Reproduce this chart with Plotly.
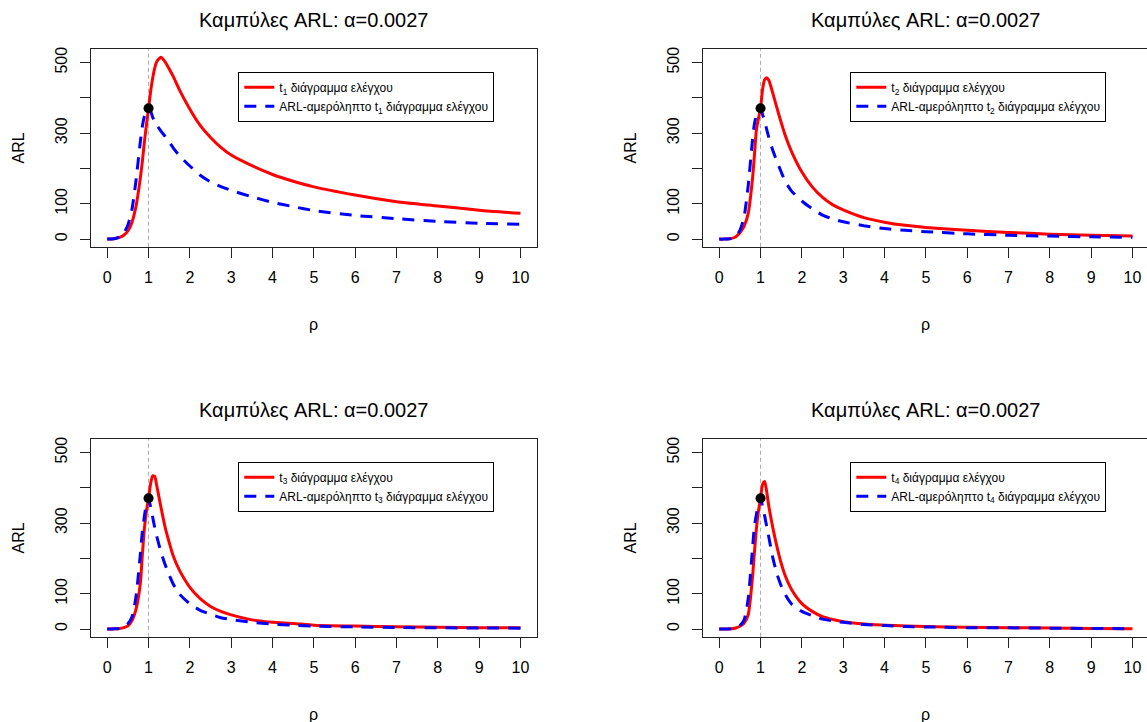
import plotly.graph_objects as go

# ARL curves for the t1..t4 control charts and their ARL-unbiased versions
rho = [0, 0.1, 0.2, 0.3, 0.4, 0.5, 0.6, 0.7, 0.8, 0.85, 0.9, 0.95, 1.0, 1.05, 1.1,
       1.15, 1.2, 1.3, 1.4, 1.5, 1.6, 1.75, 2.0, 2.25, 2.5, 2.75, 3.0, 3.5, 4.0,
       4.5, 5.0, 6.0, 7.0, 8.0, 9.0, 10.0]

arl_t1 = [0, 0.5, 2, 5, 11, 23, 48, 95, 172, 220, 276, 325, 370.4, 418, 456,
          485, 503, 515, 502, 482, 460, 422, 368, 322, 288, 260, 238, 208, 183,
          164, 148, 125, 106, 94, 82, 73]
unb_t1 = [0, 0.5, 2, 6, 17, 40, 85, 170, 275, 320, 348, 364, 370.4, 362, 345,
          333, 322, 306, 291, 275, 258, 236, 207, 181, 162, 149, 138, 120, 104,
          92, 81, 67, 58, 50, 45, 42]

arl_t2 = [0, 0, 0.5, 2, 7, 18, 36, 72, 165, 235, 310, 342, 370.4, 425, 452,
          457, 450, 412, 370, 330, 293, 248, 190, 148, 118, 97, 83, 61, 48,
          39, 33, 25, 19, 14, 11, 8.5]
unb_t2 = [0, 0, 0.5, 2, 8, 25, 62, 150, 275, 325, 352, 366, 370.4, 352, 335,
          310, 288, 250, 219, 190, 163, 136, 108, 86, 68, 57, 49, 38, 30,
          25, 21, 15, 11, 8.5, 6.5, 5]

arl_t3 = [0, 0, 0.5, 1.5, 4, 9, 24, 58, 128, 210, 285, 335, 370.4, 412, 434,
          432, 405, 345, 289, 245, 206, 166, 118, 86, 64, 50, 40, 26, 19,
          16, 11, 8.5, 6.5, 5, 4, 3.5]
unb_t3 = [0, 0, 0.5, 2, 6, 15, 35, 95, 210, 275, 320, 355, 370.4, 345, 317,
          287, 262, 218, 183, 153, 127, 99, 71, 53, 42, 32, 27, 19, 14,
          11, 8.5, 6, 4.5, 3.5, 3, 2.5]

arl_t4 = [0, 0, 0.3, 1, 3, 8, 16, 40, 140, 215, 285, 335, 370.4, 410, 418,
          388, 348, 285, 232, 186, 150, 112, 72, 50, 35, 27, 21, 14, 11,
          8.5, 7, 5, 4, 3, 1.5, 1]
unb_t4 = [0, 0, 0.3, 1, 3, 10, 25, 85, 220, 290, 325, 355, 370.4, 345, 320,
          290, 260, 200, 155, 122, 97, 71, 50, 38, 28, 23, 19, 13, 10,
          7, 6, 4, 3.5, 2.5, 1.5, 1]

arl0 = 370.4            # in-control ARL = 1/alpha
alpha_text = "0.0027"
x_ticks = list(range(0, 11))
y_ticks_labelled = [0, 100, 300, 500]
y_ticks_plain = [200, 400]

FONT = "Liberation Sans, Arial, sans-serif"
W, H = 1147, 722

panels = [
    dict(k=1, red=arl_t1, blue=unb_t1, left=90.7, right=537.0, top=47.0, bottom=245.5),
    dict(k=2, red=arl_t2, blue=unb_t2, left=702.7, right=1147.0, top=47.0, bottom=245.5),
    dict(k=3, red=arl_t3, blue=unb_t3, left=90.7, right=537.0, top=438.0, bottom=636.5),
    dict(k=4, red=arl_t4, blue=unb_t4, left=702.7, right=1147.0, top=438.0, bottom=636.5),
]

fig = go.Figure()
px_per_unit = (537.0 - 90.7) / 10.8

for p in panels:
    k = p["k"]
    xa = "x" if k == 1 else f"x{k}"
    ya = "y" if k == 1 else f"y{k}"
    lg = "legend" if k == 1 else f"legend{k}"
    right_col = k in (2, 4)

    fig.add_trace(go.Scatter(
        x=rho, y=p["red"], mode="lines", xaxis=xa, yaxis=ya, legend=lg,
        name=f"t<sub>{k}</sub> διάγραμμα ελέγχου",
        line=dict(color="#ff0000", width=3, shape="spline", smoothing=0.6),
    ))
    fig.add_trace(go.Scatter(
        x=rho, y=p["blue"], mode="lines", xaxis=xa, yaxis=ya, legend=lg,
        name=f"ARL-αμερόληπτο t<sub>{k}</sub> διάγραμμα ελέγχου",
        line=dict(color="#0000ff", width=3, dash="12px,9px", shape="spline", smoothing=0.6),
    ))
    fig.add_trace(go.Scatter(
        x=[1], y=[arl0], mode="markers", xaxis=xa, yaxis=ya, showlegend=False,
        marker=dict(color="black", size=10),
    ))

    x0 = -0.4
    x1 = x0 + (p["right"] - p["left"]) / px_per_unit
    xdom = [p["left"] / W, p["right"] / W]
    ydom = [1 - p["bottom"] / H, 1 - p["top"] / H]

    axis_common = dict(
        showgrid=False, zeroline=False, showline=True, linecolor="#222",
        linewidth=1.2, ticks="outside", ticklen=10, tickwidth=1.2, tickcolor="#222",
        tickfont=dict(family=FONT, size=16, color="black"),
    )
    fig.layout[f"xaxis{'' if k == 1 else k}"] = dict(
        axis_common, domain=xdom, range=[x0, x1], tickvals=x_ticks,
        mirror=True, anchor=ya, ticklabelstandoff=6,
    )
    fig.layout[f"yaxis{'' if k == 1 else k}"] = dict(
        axis_common, domain=ydom, range=[-21.8, 538.8], tickvals=y_ticks_labelled,
        tickangle=-90, mirror=not right_col, anchor=xa, ticklabelstandoff=6,
        minor=dict(tickvals=y_ticks_plain, ticks="outside", ticklen=10,
                   tickwidth=1.2, tickcolor="#222", showgrid=False),
    )

    # reference line at rho = 1
    fig.add_shape(type="line", xref=xa, yref=f"{ya} domain", x0=1, x1=1, y0=0, y1=1,
                  line=dict(color="#aaaaaa", width=1, dash="4px,3px"), layer="below")

    cx = (p["left"] + p["left"] + 446.3) / 2 / W
    fig.add_annotation(text=f"Καμπύλες ARL: α={alpha_text}", xref="paper", yref="paper",
                       x=cx, y=1 - (p["top"] - 29) / H, showarrow=False,
                       xanchor="center", yanchor="middle",
                       font=dict(family=FONT, size=20, color="black"))
    fig.add_annotation(text="ρ", xref="paper", yref="paper",
                       x=cx, y=1 - (p["bottom"] + 77.5) / H, showarrow=False,
                       xanchor="center", yanchor="middle",
                       font=dict(family=FONT, size=16, color="black"))
    fig.add_annotation(text="ARL", xref="paper", yref="paper", textangle=-90,
                       x=(p["left"] - 72) / W, y=1 - (p["top"] + p["bottom"]) / 2 / H,
                       showarrow=False, xanchor="center", yanchor="middle",
                       font=dict(family=FONT, size=16, color="black"))

    fig.layout[lg] = dict(
        x=(p["left"] + 147.6) / W, y=1 - (p["top"] + 23) / H, xref="paper", yref="paper",
        xanchor="left", yanchor="top", bgcolor="white", bordercolor="black",
        borderwidth=1, font=dict(family=FONT, size=12, color="black"),
        itemwidth=30, tracegroupgap=0,
    )

fig.update_layout(
    width=W, height=H, autosize=False,
    margin=dict(l=0, r=0, t=0, b=0),
    paper_bgcolor="white", plot_bgcolor="white",
    font=dict(family=FONT, color="black"),
)

fig.write_html("out.html")
